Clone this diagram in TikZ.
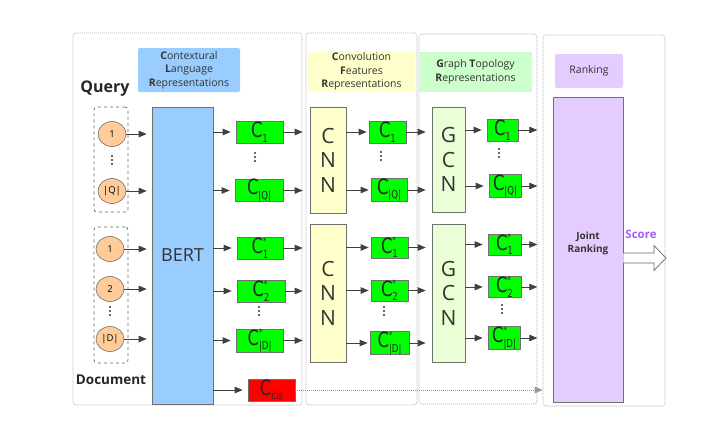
\documentclass[tikz,border=0pt]{standalone}
\usepackage{fontspec}
\setmainfont{Open Sans}
\newfontfamily\cfont[FakeStretch=0.78]{DejaVu Sans}
\usetikzlibrary{arrows.meta,calc,shapes.geometric}
\definecolor{lblue}{HTML}{99CCFF}
\definecolor{lyellow}{HTML}{FFFFCC}
\definecolor{lgreen}{HTML}{CCFFCC}
\definecolor{gcnfill}{HTML}{EAFFD5}
\definecolor{lpurple}{HTML}{E5CCFF}
\definecolor{orangec}{HTML}{FFCC99}
\definecolor{scorec}{HTML}{A35CFF}
\definecolor{edgec}{HTML}{707070}
\definecolor{arrc}{HTML}{404040}
\newcommand\clab[2]{{\cfont\fontsize{21}{21}\selectfont C}\makebox[0pt][l]{\raisebox{9.5pt}{\cfont\fontsize{9}{9}\selectfont #2}}\raisebox{-4.5pt}{\cfont\fontsize{11}{11}\selectfont #1}}
\newcommand\vdts[1]{\fill[black!80] ($(#1)+(0,-4)$) circle (1.1) (#1) circle (1.1) ($(#1)+(0,4)$) circle (1.1);}
\begin{document}
\begin{tikzpicture}[x=1pt,y=-1pt,
  panel/.style={draw=gray!70, dash pattern=on 1pt off 1pt, line width=0.6pt, rounded corners=3pt, inner sep=0},
  lbl/.style={rounded corners=2pt, inner sep=0, align=center, font=\fontsize{10.5}{13.5}\selectfont, text=black!80},
  blk/.style={draw=edgec, line width=0.7pt, inner sep=0, align=center},
  cbox/.style={blk, fill=green, minimum height=22, text=black!85},
  circ/.style={draw=edgec, line width=0.6pt, ellipse, fill=orangec, minimum width=28, minimum height=25, inner sep=0, font=\fontsize{9.5}{9.5}\selectfont},
  grp/.style={draw=black!60, dashed, line width=0.7pt, rounded corners=3pt, inner sep=0},
  arr/.style={draw=arrc, line width=0.8pt, -{Triangle[length=8pt,width=6.5pt]}, shorten >=5pt},
  letters/.style={font=\fontsize{21}{24.5}\selectfont, text=black!80}
]
\useasboundingbox (0,0) rectangle (720,429);
% panels
\node[panel, minimum width=229, minimum height=372] (p1) at (187.5,219) {};
\node[panel, minimum width=111, minimum height=372] (p2) at (361.5,219) {};
\node[panel, minimum width=118, minimum height=370] (p3) at (478,219) {};
\node[panel, minimum width=122, minimum height=371] (p4) at (604,220.5) {};
% headers
\node[lbl, fill=lblue, minimum width=102, minimum height=44] (l1) at (189,70) {\textbf{C}ontextural\\\textbf{L}anguage\\\textbf{R}epresentations};
\node[lbl, fill=lyellow, minimum width=107, minimum height=41] (l2) at (361.5,71.5) {\textbf{C}onvolution\\\textbf{F}eatures\\\textbf{R}epresentations};
\node[lbl, fill=lgreen, minimum width=113, minimum height=40] (l3) at (475.5,72) {\textbf{G}raph \textbf{T}opology\\\textbf{R}epresentations};
\node[lbl, fill=lpurple, minimum width=68, minimum height=34] (l4) at (589,71) {Ranking};
% query / document titles
\node[font=\fontsize{16}{16}\selectfont\bfseries, text=black!85] (qt) at (105,89) {Query};
\node[font=\fontsize{13.5}{13.5}\selectfont\bfseries, text=black!85] (dt) at (111,380) {Document};
% groups
\node[grp, minimum width=34, minimum height=105] (qg) at (111,159.5) {};
\node[grp, minimum width=34, minimum height=136] (dg) at (111,295) {};
\node[circ] (q1) at (112,134) {1};
\node[circ] (qQ) at (112,191) {|Q|};
\node[circ] (d1) at (110,249) {1};
\node[circ] (d2) at (110,289) {2};
\node[circ] (dD) at (110,339) {|D|};
\vdts{112,160}
\vdts{110,311}
% BERT
\node[blk, fill=lblue, minimum width=61, minimum height=297, font=\fontsize{18}{18}\selectfont, text=black!80] (bert) at (182.5,255.5) {BERT};
% BERT outputs
\node[cbox, minimum width=47] (bq1) at (259.5,132) {\clab{1}{}};
\node[cbox, minimum width=48] (bqQ) at (259,190.5) {\clab{|Q|}{}};
\node[cbox, minimum width=46] (bd1) at (260,248) {\clab{1}{*}};
\node[cbox, minimum width=48] (bd2) at (261,291) {\clab{2}{*}};
\node[cbox, minimum width=47] (bdD) at (259.5,340.5) {\clab{|D|}{*}};
\node[blk, fill=red, minimum width=47, minimum height=22, text=black!85] (cls) at (271.5,390) {\clab{cls}{}};
\vdts{255,157}
\vdts{259,311}
% CNN
\node[blk, fill=lyellow, minimum width=36, minimum height=106, letters] (cnn1) at (328,160) {C\\N\\N};
\node[blk, fill=lyellow, minimum width=36, minimum height=138, letters] (cnn2) at (328,293) {C\\N\\N};
\node[cbox, minimum width=37] (cq1) at (387.5,132) {\clab{1}{}};
\node[cbox, minimum width=36] (cqQ) at (389,190) {\clab{|Q|}{}};
\node[cbox, minimum width=37, minimum height=21] (cd1) at (389.5,247.5) {\clab{1}{*}};
\node[cbox, minimum width=37, minimum height=21] (cd2) at (389.5,290.5) {\clab{2}{*}};
\node[cbox, minimum width=39] (cdD) at (389.5,343) {\clab{|D|}{*}};
\vdts{381,156}
\vdts{384,311}
% GCN
\node[blk, fill=gcnfill, minimum width=33, minimum height=105, letters] (gcn1) at (448.5,159.5) {G\\C\\N};
\node[blk, fill=gcnfill, minimum width=33, minimum height=138, letters] (gcn2) at (448.5,293) {G\\C\\N};
\node[cbox, minimum width=31] (gq1) at (502.5,130) {\clab{1}{}};
\node[cbox, minimum width=32] (gqQ) at (505,186) {\clab{|Q|}{}};
\node[cbox, minimum width=33, minimum height=21] (gd1) at (504.5,244.5) {\clab{1}{*}};
\node[cbox, minimum width=33, minimum height=21] (gd2) at (504.5,287) {\clab{2}{*}};
\node[cbox, minimum width=32] (gdD) at (504,338) {\clab{|D|}{*}};
\vdts{499,153}
\vdts{502,309}
% Joint ranking
\node[blk, fill=lpurple, minimum width=70, minimum height=305] (jr) at (588,249.5) {};
\node[align=center, font=\fontsize{10}{13}\selectfont\bfseries, text=black!80] (jrt) at (588,243) {Joint\\Ranking};
\node[font=\fontsize{11.5}{11.5}\selectfont\bfseries, text=scorec] (score) at (641,234) {Score};
% score arrow
\draw[draw=gray!80!black, fill=white, line width=0.7pt]
  (jr.east |- 0,253) -- (654,253) -- (654,245.5) -- (666,258) -- (654,270.5) -- (654,263) -- (jr.east |- 0,263);
% arrows into BERT
\foreach \n in {q1,qQ,d1,d2,dD} \draw[arr] (\n.east) -- (\n.east -| bert.west);
% BERT outputs
\foreach \n in {bq1,bqQ,bd1,bd2,bdD,cls} \draw[arr] (\n.west -| bert.east) -- (\n.west);
% into CNN
\foreach \a/\b in {bq1/cnn1,bqQ/cnn1,bd1/cnn2,bd2/cnn2,bdD/cnn2} \draw[arr, shorten >=7pt] (\a.east) -- (\a.east -| \b.west);
% CNN outputs
\foreach \a/\b in {cq1/cnn1,cqQ/cnn1,cd1/cnn2,cd2/cnn2,cdD/cnn2} \draw[arr, shorten >=2pt] (\a.west -| \b.east) -- (\a.west);
% into GCN
\foreach \a/\b in {cq1/gcn1,cqQ/gcn1,cd1/gcn2,cd2/gcn2,cdD/gcn2} \draw[arr, shorten >=6pt] (\a.east) -- (\a.east -| \b.west);
% GCN outputs
\foreach \a/\b in {gq1/gcn1,gqQ/gcn1,gd1/gcn2,gd2/gcn2,gdD/gcn2} \draw[arr] (\a.west -| \b.east) -- (\a.west);
% to ranking
\foreach \a in {gq1,gqQ,gd1,gd2,gdD} \draw[arr, shorten >=0pt] (\a.east) -- (\a.east -| p3.east);
% cls dotted
\draw[draw=gray!80, dash pattern=on 1pt off 1pt, line width=0.8pt, -{Triangle[length=8pt,width=6.5pt]}] (cls.east) -- (cls.east -| p4.west);
\end{tikzpicture}
\end{document}
